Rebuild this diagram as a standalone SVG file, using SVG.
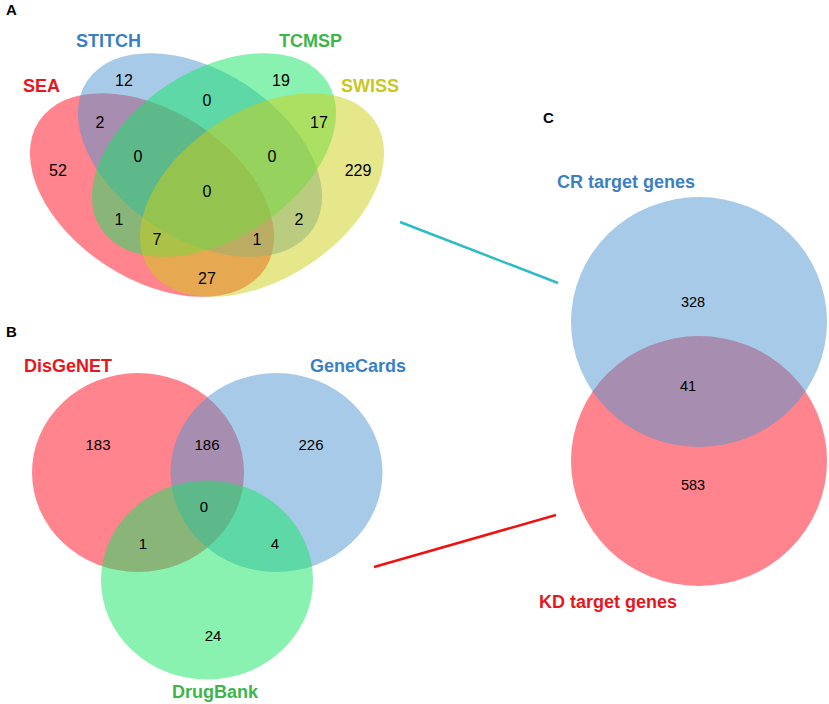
<svg xmlns="http://www.w3.org/2000/svg" width="829" height="704" viewBox="0 0 829 704">
<style>
.lbl{font-family:"Liberation Sans",Arial,sans-serif;font-weight:bold;font-size:18px;}
.pl{font-family:"Liberation Sans",Arial,sans-serif;font-weight:bold;font-size:15px;fill:#000;}
.n{font-family:"Liberation Sans",Arial,sans-serif;font-size:14.5px;fill:#000;text-anchor:middle;}
.na{font-size:16px;}
.nb{font-size:15px;}
.red{fill:rgb(255,10,30);fill-opacity:0.5;}
.blue{fill:rgb(80,150,210);fill-opacity:0.5;}
.green{fill:rgb(20,230,100);fill-opacity:0.5;}
.yellow{fill:rgb(205,205,21);fill-opacity:0.5;}
</style>
<rect width="829" height="704" fill="#fff"/>
<g id="panelA">
<text class="pl" x="6" y="15">A</text>
<g id="SEA"><ellipse class="red" cx="0" cy="0" rx="135" ry="84" transform="translate(152,195) rotate(33)"/><text class="lbl" x="23" y="92" fill="#e8141e">SEA</text></g>
<g id="STITCH"><ellipse class="blue" cx="0" cy="0" rx="135" ry="84" transform="translate(200,155) rotate(33)"/><text class="lbl" x="76" y="47" fill="#3b7fc4">STITCH</text></g>
<g id="TCMSP"><ellipse class="green" cx="0" cy="0" rx="135" ry="84" transform="translate(214,155) rotate(-33)"/><text class="lbl" x="279" y="47" fill="#3cb54a">TCMSP</text></g>
<g id="SWISS"><ellipse class="yellow" cx="0" cy="0" rx="135" ry="84" transform="translate(262,195) rotate(-33)"/><text class="lbl" x="341" y="92" fill="#c8c81e">SWISS</text></g>
<g id="A-counts">
<text class="n na" x="124" y="86">12</text>
<text class="n na" x="281" y="86">19</text>
<text class="n na" x="207" y="106">0</text>
<text class="n na" x="100" y="128">2</text>
<text class="n na" x="319" y="128">17</text>
<text class="n na" x="58" y="176">52</text>
<text class="n na" x="138" y="162">0</text>
<text class="n na" x="272" y="162">0</text>
<text class="n na" x="358" y="176">229</text>
<text class="n na" x="207" y="197">0</text>
<text class="n na" x="119" y="225">1</text>
<text class="n na" x="299" y="225">2</text>
<text class="n na" x="157" y="245">7</text>
<text class="n na" x="257" y="245">1</text>
<text class="n na" x="207" y="284">27</text>
</g>
</g>
<g id="panelB">
<text class="pl" x="6" y="337">B</text>
<g id="DisGeNET"><ellipse class="red" cx="138" cy="472.5" rx="106" ry="99.5"/><text class="lbl" x="24" y="372" fill="#e8141e">DisGeNET</text></g>
<g id="GeneCards"><ellipse class="blue" cx="276.5" cy="472.5" rx="106" ry="99.5"/><text class="lbl" x="310" y="372" fill="#3b7fc4">GeneCards</text></g>
<g id="DrugBank"><ellipse class="green" cx="207" cy="580" rx="106" ry="99.5"/><text class="lbl" x="172" y="698" fill="#3cb54a">DrugBank</text></g>
<g id="B-counts">
<text class="n nb" x="98" y="450">183</text>
<text class="n nb" x="207" y="450">186</text>
<text class="n nb" x="311" y="450">226</text>
<text class="n nb" x="204" y="512">0</text>
<text class="n nb" x="143" y="549">1</text>
<text class="n nb" x="275" y="549">4</text>
<text class="n nb" x="213" y="641">24</text>
</g>
</g>
<g id="panelC">
<text class="pl" x="543" y="123">C</text>
<g id="KD"><ellipse class="red" cx="699" cy="461" rx="128" ry="125"/><text class="lbl" x="539" y="608" fill="#e8141e">KD target genes</text></g>
<g id="CR"><ellipse class="blue" cx="699" cy="322" rx="128" ry="125"/><text class="lbl" x="557" y="188" fill="#3b7fc4">CR target genes</text></g>
<g id="C-counts">
<text class="n" x="693" y="307">328</text>
<text class="n" x="688" y="391">41</text>
<text class="n" x="693" y="490">583</text>
</g>
</g>
<g id="connectors">
<line x1="400" y1="222" x2="558" y2="283" stroke="#2cbcc4" stroke-width="2.5"/>
<line x1="374" y1="567" x2="556" y2="515" stroke="#f01010" stroke-width="2.5"/>
</g>
</svg>
